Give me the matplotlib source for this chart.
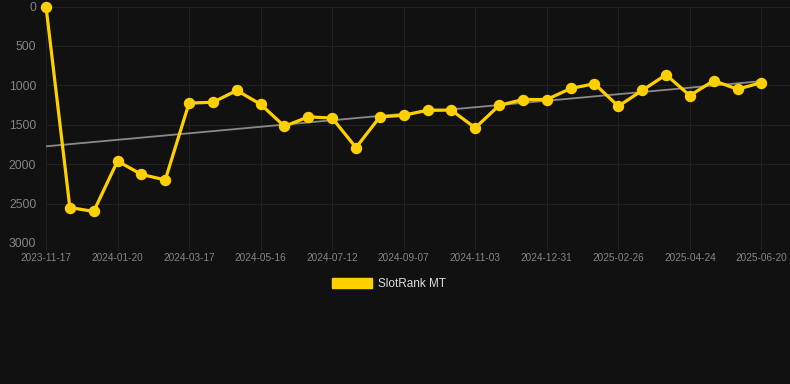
import numpy as np
import matplotlib
matplotlib.use("Agg")
import matplotlib.pyplot as plt
from matplotlib.patches import Patch

plt.rcParams["font.family"] = ["Liberation Sans", "DejaVu Sans"]

# dates of each sample (labels shown every third one)
dates = ["2023-11-17", "2023-12-08", "2023-12-29", "2024-01-20", "2024-02-07", "2024-02-26",
         "2024-03-17", "2024-04-06", "2024-04-26", "2024-05-16", "2024-06-04", "2024-06-23",
         "2024-07-12", "2024-07-31", "2024-08-19", "2024-09-07", "2024-09-26", "2024-10-15",
         "2024-11-03", "2024-11-22", "2024-12-12", "2024-12-31", "2025-01-19", "2025-02-07",
         "2025-02-26", "2025-03-17", "2025-04-05", "2025-04-24", "2025-05-13", "2025-06-01",
         "2025-06-20"]
rank = [0, 2550, 2600, 1960, 2130, 2200, 1225, 1215, 1065, 1240, 1520, 1400, 1415, 1790,
        1400, 1380, 1315, 1315, 1540, 1255, 1180, 1180, 1040, 980, 1265, 1065, 865, 1130,
        940, 1050, 965]
series_name = "SlotRank MT"
y_ticks = [0, 500, 1000, 1500, 2000, 2500, 3000]

bg = "#111111"
gold = "#FFD000"
txt = "#858585"

fig = plt.figure(figsize=(7.9, 3.84), dpi=100, facecolor=bg)
ax = fig.add_axes([46 / 790, 1 - 243 / 384, 744 / 790, (243 - 6.5) / 384])
ax.set_facecolor(bg)

x = np.arange(len(rank))
ax.plot(x, rank, color=gold, lw=2.3, marker="o", ms=7.2, zorder=3, clip_on=False)

# linear trend
k, b = np.polyfit(x, rank, 1)
ax.plot(x, k * x + b, color="#8a8a8a", lw=1.3, zorder=2)

ax.set_ylim(3000, 0)
ax.set_xlim(0, 31.2)
ax.set_yticks(y_ticks)
ax.set_xticks(x[::3])
ax.set_xticklabels(dates[::3])

ax.grid(True, color="#212121", lw=0.8)
for s in ax.spines.values():
    s.set_visible(False)
ax.tick_params(axis="y", colors=txt, labelsize=8.8, length=0, pad=7)
ax.tick_params(axis="x", colors=txt, labelsize=7.2, length=5, pad=2, color="#212121")

handle = Patch(facecolor=gold, edgecolor=gold)
fig.legend([handle], [series_name], loc="center", bbox_to_anchor=(389 / 790, 1 - 284 / 384),
           frameon=False, labelcolor="#dddddd", fontsize=8.5, handlelength=3.4,
           handleheight=0.9, handletextpad=0.5)

fig.savefig("out.png", dpi=100, facecolor=bg)
